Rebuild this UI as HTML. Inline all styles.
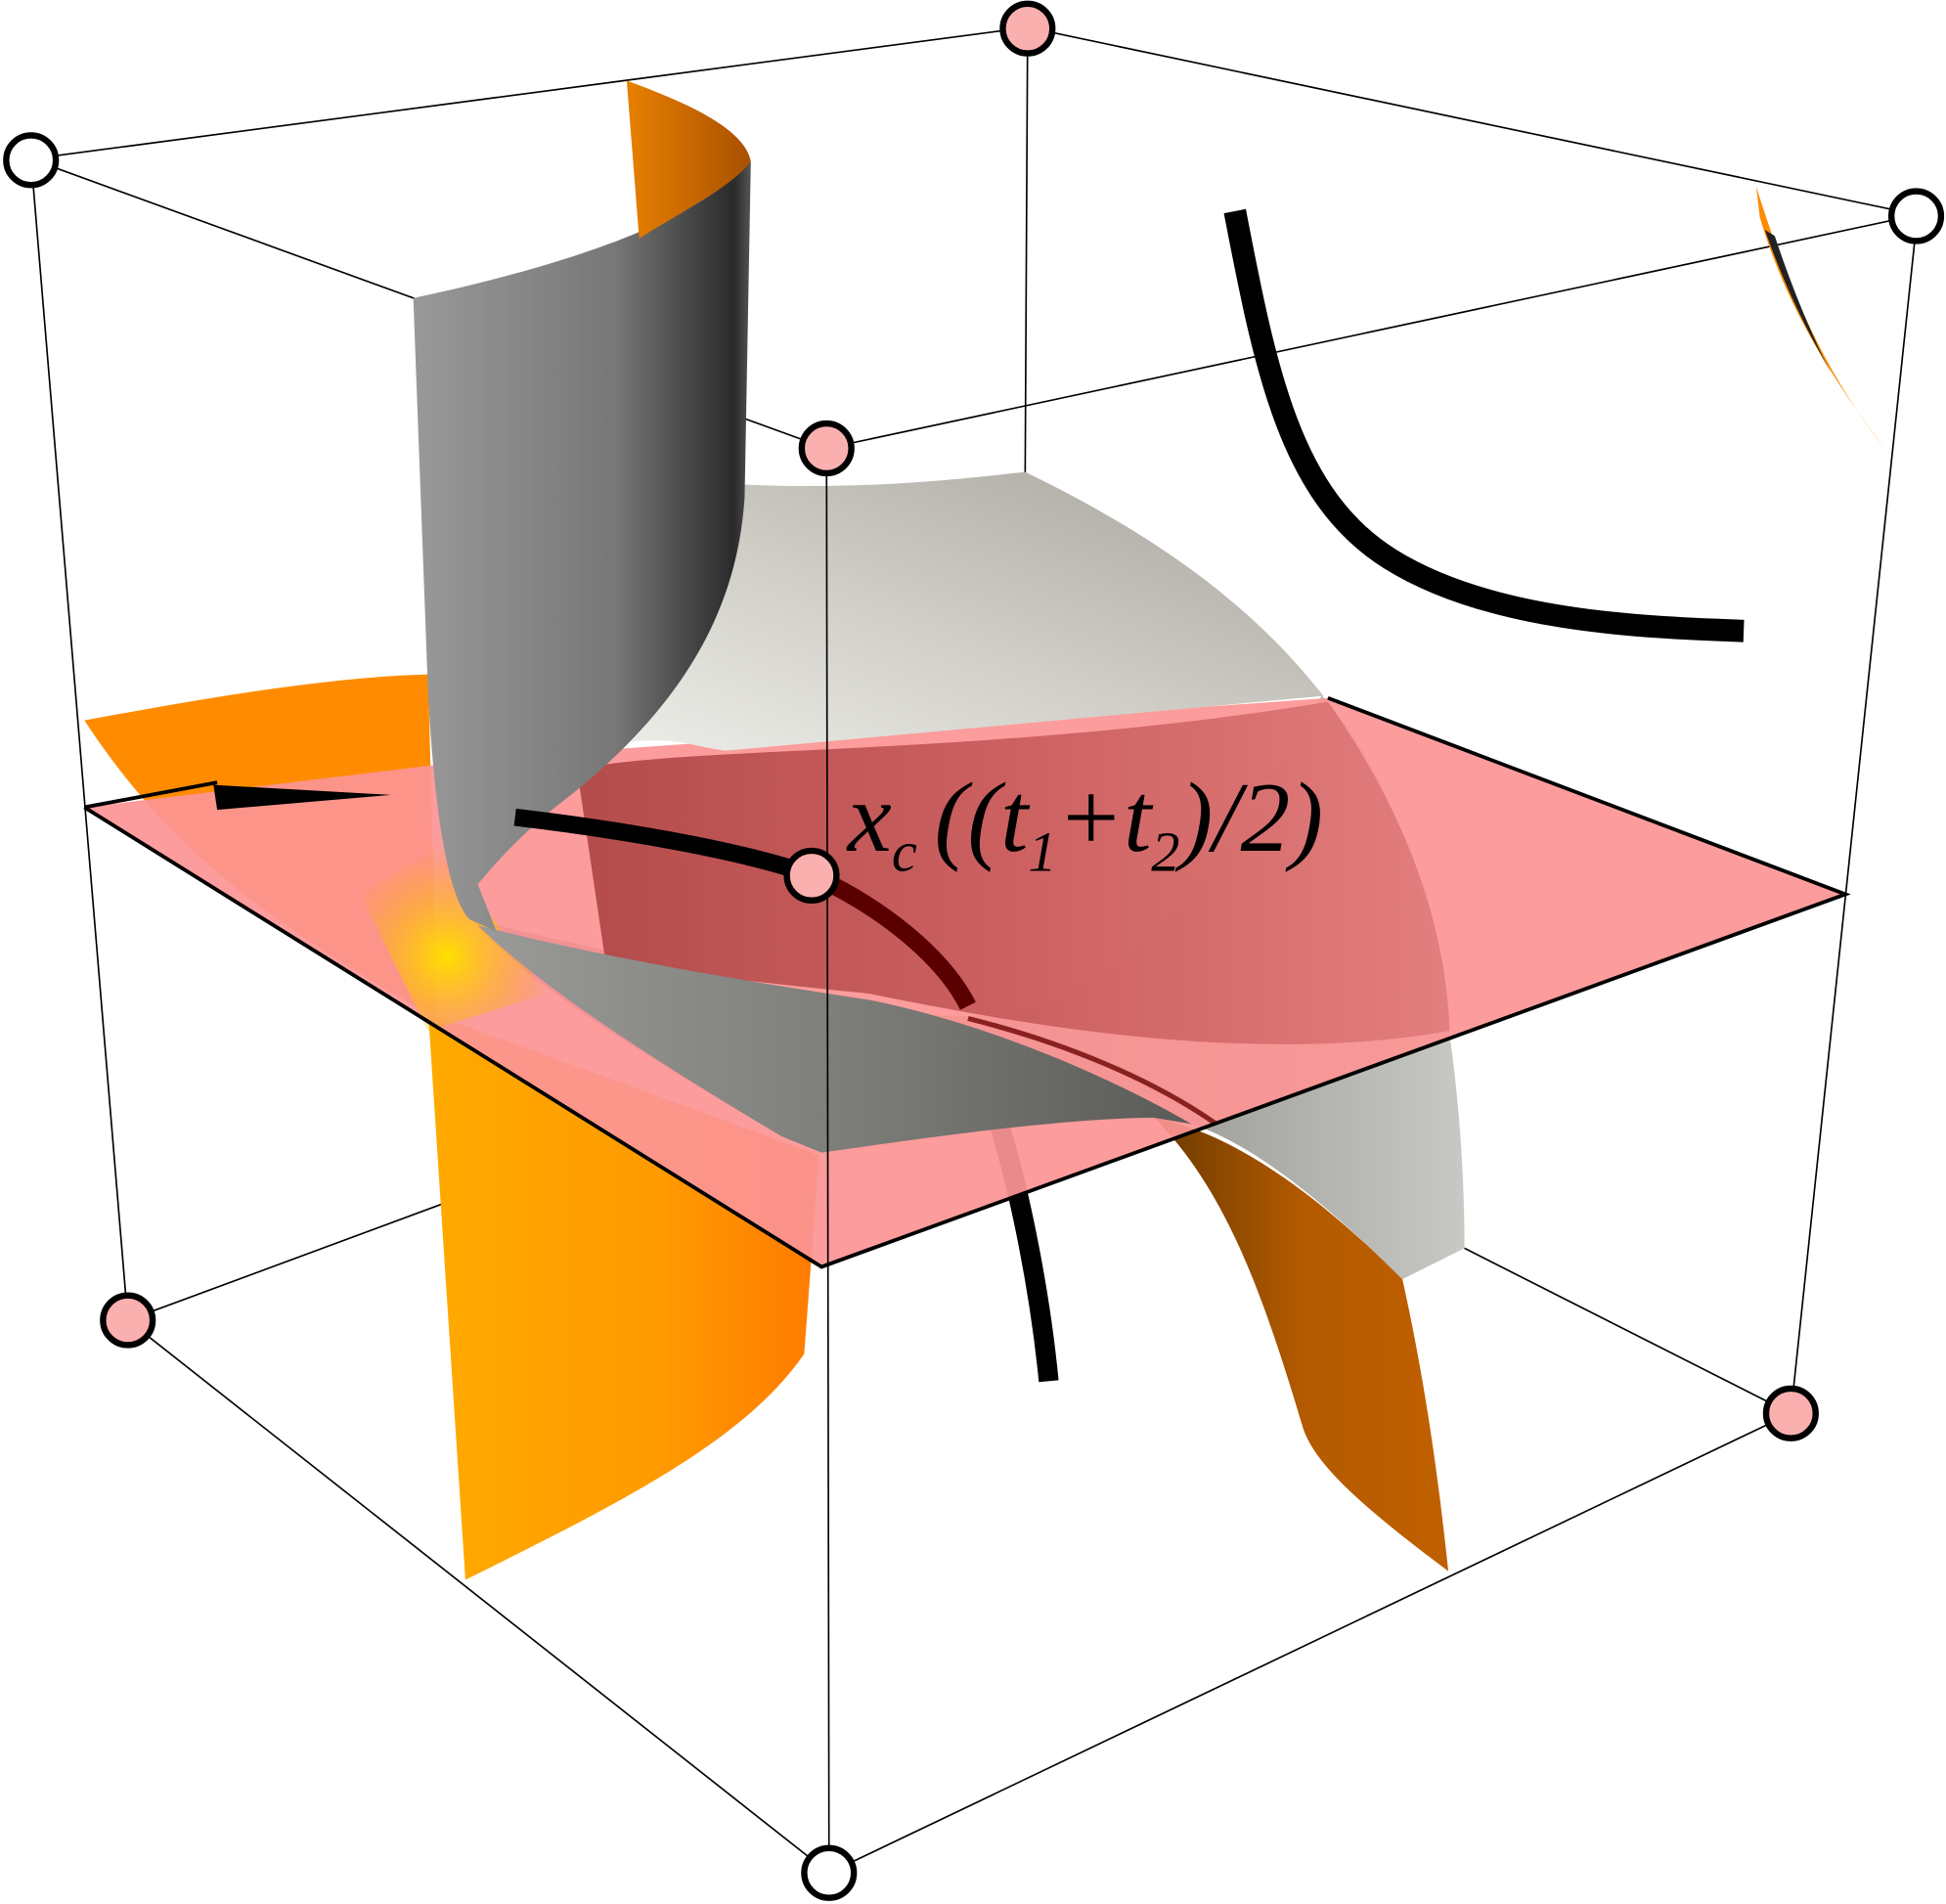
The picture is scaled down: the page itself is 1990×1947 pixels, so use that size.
<!DOCTYPE html>
<html><head><meta charset="utf-8"><style>
html,body{margin:0;padding:0;background:#fff;width:1990px;height:1947px;overflow:hidden}
svg{display:block}
</style></head><body>
<svg width="1990" height="1947" viewBox="0 0 1568 1533" preserveAspectRatio="none">
<defs>
<linearGradient id="gSheet" x1="0" y1="0" x2="1" y2="0">
<stop offset="0" stop-color="#999"/><stop offset="0.6" stop-color="#777"/><stop offset="0.95" stop-color="#2a2a2a"/><stop offset="1" stop-color="#555"/></linearGradient>
<linearGradient id="gSaddle" x1="0" y1="1" x2="1" y2="0">
<stop offset="0" stop-color="#f4f4f0"/><stop offset="0.5" stop-color="#cfcdc6"/><stop offset="1" stop-color="#a5a29b"/></linearGradient>
<linearGradient id="gLow" x1="0" y1="0" x2="1" y2="0">
<stop offset="0" stop-color="#6c6c6c"/><stop offset="0.6" stop-color="#8e8e8a"/><stop offset="1" stop-color="#c8c8c4"/></linearGradient>
<linearGradient id="gBand" x1="0" y1="0" x2="1" y2="0">
<stop offset="0" stop-color="#9a9a98"/><stop offset="0.5" stop-color="#7e7e7a"/><stop offset="1" stop-color="#5a5a58"/></linearGradient>
<linearGradient id="gDark" x1="0" y1="0" x2="1" y2="0">
<stop offset="0" stop-color="#a83e3e"/><stop offset="0.5" stop-color="#c45656"/><stop offset="1" stop-color="#e07a7a"/></linearGradient>
<linearGradient id="gOrL" x1="0" y1="0" x2="1" y2="0">
<stop offset="0" stop-color="#ffaa00"/><stop offset="0.6" stop-color="#ff9a00"/><stop offset="1" stop-color="#ff7a00"/></linearGradient>
<linearGradient id="gOrR" x1="0" y1="0" x2="1" y2="0">
<stop offset="0" stop-color="#6a3a00"/><stop offset="0.5" stop-color="#b35a00"/><stop offset="1" stop-color="#c06000"/></linearGradient>
<linearGradient id="gOrT" x1="0" y1="0" x2="1" y2="0">
<stop offset="0" stop-color="#e88000"/><stop offset="1" stop-color="#a85000"/></linearGradient>
<radialGradient id="gYel" cx="360" cy="770" r="90" gradientUnits="userSpaceOnUse">
<stop offset="0" stop-color="#ffe000"/><stop offset="1" stop-color="#ffa000" stop-opacity="0"/></radialGradient>
<clipPath id="above"><polygon points="0,0 1568,0 1568,555 1070,560 470,615 400,640 380,760 0,760"/></clipPath>
</defs>

<g stroke="#000" stroke-width="1.3" fill="none">
<line x1="828" y1="22" x2="826" y2="385"/>
<line x1="828" y1="22" x2="25" y2="128"/>
<line x1="828" y1="22" x2="1545" y2="173"/>
<line x1="103" y1="1063" x2="360" y2="968"/>
<line x1="1443" y1="1138" x2="1180" y2="1005"/>
<line x1="25" y1="128" x2="666" y2="361"/>
<line x1="1545" y1="173" x2="666" y2="361"/>
</g>

<path d="M345,815 L660,930 L648,1090 C600,1160 500,1210 375,1272 Z" fill="url(#gOrL)"/>
<path d="M930,900 C1010,915 1090,990 1130,1030 C1150,1120 1160,1200 1167,1265 C1100,1215 1060,1180 1050,1150 C1020,1050 990,960 930,900 Z" fill="url(#gOrR)"/>
<path d="M68,580 C150,565 260,545 345,543 L352,820 L300,790 C220,740 140,690 68,580 Z" fill="#ff8c00"/>

<path d="M805,905 C822,960 838,1040 845,1112" stroke="#000" stroke-width="16" fill="none"/>

<path d="M380,740 C460,760 560,780 650,800 C800,830 900,860 1065,560 C1150,650 1180,850 1180,1005 L1130,1030 C1050,950 980,900 930,900 C850,900 720,920 662,928 L630,915 C520,850 420,790 380,740 Z" fill="url(#gLow)"/>

<polygon points="68,650 662,1020 1487,720 1070,562 400,610" fill="#fc9494" fill-opacity="0.93"/>
<path d="M465,620 C540,600 800,610 1070,565 C1130,650 1165,740 1168,830 C1000,860 800,820 700,800 C600,790 520,780 488,775 Z" fill="url(#gDark)" fill-opacity="0.85"/>
<path d="M290,720 L355,680 L440,800 L345,830 Z" fill="url(#gYel)"/>

<path d="M385,745 C480,770 600,790 700,805 C800,825 900,870 960,905 L930,900 C850,900 720,920 662,928 L630,915 C520,850 430,790 385,745 Z" fill="url(#gBand)"/>
<path d="M780,820 C860,840 930,870 980,905" stroke="#8a2020" stroke-width="4" fill="none"/>

<g clip-path="url(#above)">
<path d="M595,390 C700,395 780,385 826,380 C950,440 1020,500 1070,565 C900,600 700,630 560,600 C520,590 470,600 440,625 L595,400 Z" fill="url(#gSaddle)"/>
</g>
<path d="M333,240 C450,215 560,180 605,130 L600,400 C595,480 560,560 460,640 C420,670 395,700 385,712 L400,750 L378,740 C360,720 350,650 345,560 Z" fill="url(#gSheet)"/>
<path d="M505,65 C560,85 600,105 605,130 C590,150 550,170 515,192 Z" fill="url(#gOrT)"/>
<path d="M1415,150 C1440,230 1470,300 1518,360 C1480,310 1440,250 1418,175 Z" fill="#ff8c00"/>
<path d="M1422,185 C1445,250 1465,280 1475,300 C1455,260 1440,220 1430,190 Z" fill="#222"/>

<path d="M995,170 C1020,300 1040,400 1120,450 C1200,500 1320,505 1405,508" stroke="#000" stroke-width="18" fill="none"/>
<path d="M415,658 C500,668 600,685 655,705" stroke="#000" stroke-width="14" fill="none"/>
<path d="M655,705 C710,730 760,770 780,810" stroke="#5a0000" stroke-width="14" fill="none"/>
<path d="M172,632 L315,640 L175,652 Z" fill="#000"/>

<polyline points="68,650 662,1020 1487,720 1070,562" fill="none" stroke="#000" stroke-width="3"/>
<line x1="68" y1="650" x2="175" y2="630" stroke="#000" stroke-width="3"/>

<g stroke="#000" stroke-width="1.3" fill="none">
<line x1="25" y1="128" x2="103" y2="1063"/>
<line x1="1545" y1="173" x2="1443" y2="1138"/>
<line x1="666" y1="361" x2="668" y2="1508"/>
<line x1="103" y1="1063" x2="668" y2="1508"/>
<line x1="668" y1="1508" x2="1443" y2="1138"/>
</g>

<text x="683" y="685" font-family="Liberation Serif, serif" font-style="italic" font-size="80" fill="#000">x<tspan font-size="46" dy="16">c</tspan><tspan dy="-16" dx="14">((t</tspan><tspan font-size="46" dy="16">1</tspan><tspan dy="-16">+t</tspan><tspan font-size="46" dy="16">2</tspan><tspan dy="-16">)/2)</tspan></text>

<g stroke="#000" stroke-width="5">
<circle cx="828" cy="23" r="20" fill="#fbb0b0"/>
<circle cx="25" cy="129" r="20" fill="#fff"/>
<circle cx="1544" cy="174" r="20" fill="#fff"/>
<circle cx="666" cy="361" r="20" fill="#fbb0b0"/>
<circle cx="654" cy="705" r="20" fill="#fbb0b0"/>
<circle cx="103" cy="1063" r="20" fill="#fbb0b0"/>
<circle cx="1443" cy="1138" r="20" fill="#fbb0b0"/>
<circle cx="668" cy="1508" r="20" fill="#fff"/>
</g>
</svg>
</body></html>
